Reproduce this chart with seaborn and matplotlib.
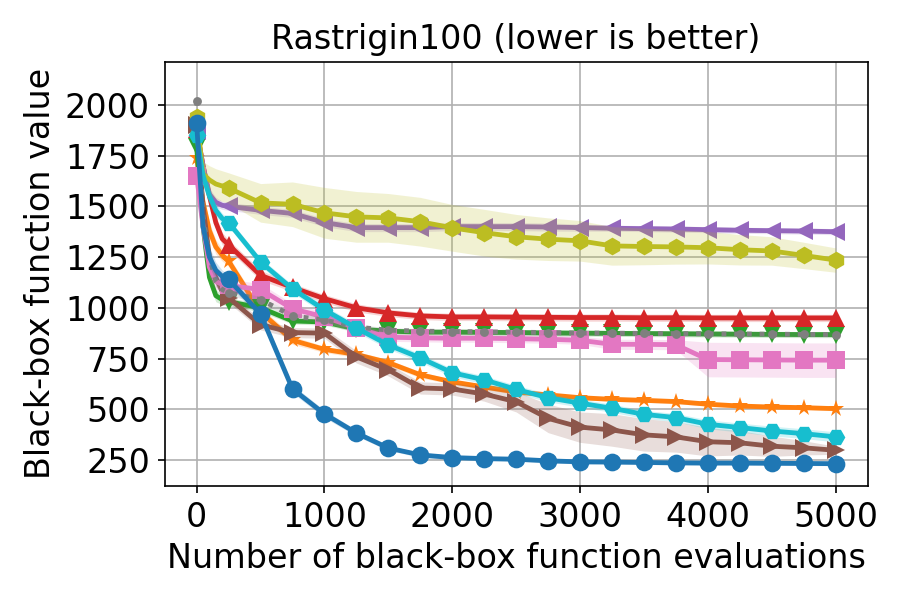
import matplotlib
matplotlib.use('Agg')
import matplotlib.pyplot as plt
import seaborn as sns
import numpy as np

plt.rcParams['font.family'] = ['DejaVu Sans']
plt.rcParams['font.size'] = 16

# evaluaciones (x) y valores
evals = [0, 50, 100, 150, 200, 250, 500, 750, 1000, 1250, 1500, 1750, 2000,
         2250, 2500, 2750, 3000, 3250, 3500, 3750, 4000, 4250, 4500, 4750, 5000]

blue = [1910, 1400, 1250, 1185, 1155, 1140, 970, 600, 477, 383, 309, 275, 262,
        257, 254, 246, 241, 240, 238, 236, 235, 235, 234, 233, 232]
orange = [1740, 1520, 1380, 1300, 1260, 1230, 980, 840, 795, 770, 730, 670, 635,
          610, 585, 571, 557, 549, 544, 538, 525, 516, 511, 508, 503]
green = [1790, 1400, 1150, 1060, 1040, 1030, 1000, 935, 930, 895, 885, 880, 880,
         879, 878, 876, 875, 874, 873, 872, 871, 870, 869, 868, 868]
red = [1880, 1700, 1550, 1420, 1340, 1310, 1160, 1100, 1045, 1000, 975, 960, 955,
       955, 954, 953, 952, 952, 951, 951, 950, 950, 950, 950, 950]
purple = [1870, 1700, 1560, 1520, 1505, 1500, 1480, 1465, 1420, 1395, 1395, 1395, 1400,
          1400, 1400, 1398, 1395, 1392, 1390, 1388, 1385, 1382, 1380, 1378, 1375]
brown = [1900, 1500, 1250, 1150, 1080, 1050, 916, 878, 875, 758, 694, 605, 600,
         575, 537, 455, 412, 398, 374, 364, 340, 335, 318, 310, 298]
pink = [1650, 1400, 1200, 1130, 1115, 1110, 1090, 995, 955, 900, 855, 852, 850,
        850, 848, 845, 840, 820, 820, 818, 745, 744, 743, 742, 742]
gray = [2020, 1450, 1250, 1130, 1090, 1075, 1040, 960, 940, 905, 890, 885, 883,
        882, 880, 878, 876, 875, 874, 873, 872, 871, 870, 869, 868]
olive = [1940, 1660, 1630, 1610, 1600, 1590, 1517, 1510, 1468, 1448, 1443, 1424, 1394,
         1370, 1350, 1338, 1330, 1305, 1302, 1300, 1296, 1286, 1280, 1258, 1235]
cyan = [1850, 1650, 1550, 1480, 1440, 1420, 1226, 1093, 990, 900, 817, 753, 680,
        645, 598, 557, 530, 505, 475, 459, 426, 410, 393, 380, 364]

# semi-ancho de la banda sombreada
blue_sd = [40, 60, 50, 40, 30, 25, 25, 20, 18, 15, 12, 12, 12,
           10, 10, 10, 10, 10, 10, 10, 10, 10, 10, 10, 10]
orange_sd = [40, 50, 40, 35, 30, 25, 25, 20, 15, 15, 15, 15, 12,
             12, 12, 10, 10, 10, 10, 10, 10, 10, 10, 10, 10]
green_sd = [30, 50, 40, 30, 25, 20, 20, 15, 15, 15, 15, 15, 15,
            15, 15, 15, 15, 15, 15, 15, 15, 15, 15, 15, 15]
red_sd = [30, 50, 40, 35, 30, 25, 25, 20, 20, 20, 18, 18, 18,
          18, 18, 18, 18, 18, 18, 18, 18, 18, 18, 18, 18]
purple_sd = [30, 40, 30, 25, 20, 20, 20, 20, 20, 20, 20, 20, 20,
             20, 20, 20, 18, 15, 15, 15, 15, 15, 15, 15, 15]
brown_sd = [40, 60, 50, 40, 30, 25, 25, 25, 25, 30, 30, 30, 30,
            35, 50, 70, 75, 80, 80, 75, 70, 60, 50, 35, 20]
pink_sd = [40, 60, 50, 40, 30, 30, 30, 25, 25, 25, 20, 20, 20,
           20, 20, 20, 20, 25, 25, 25, 85, 85, 85, 85, 85]
gray_sd = [20, 40, 30, 25, 20, 15, 15, 15, 15, 12, 12, 12, 12,
           12, 12, 12, 12, 12, 12, 12, 12, 12, 12, 12, 12]
olive_sd = [30, 60, 70, 75, 75, 75, 95, 110, 125, 125, 120, 120, 115,
            115, 110, 105, 100, 95, 90, 85, 80, 75, 70, 65, 60]
cyan_sd = [30, 50, 40, 30, 25, 20, 20, 20, 20, 20, 20, 20, 20,
           20, 20, 20, 20, 20, 20, 20, 22, 22, 24, 24, 25]

series = [
    (blue, blue_sd, 'tab:blue', 'o', '-'),
    (orange, orange_sd, 'tab:orange', '*', '-'),
    (green, green_sd, 'tab:green', 'v', '-'),
    (red, red_sd, 'tab:red', '^', '-'),
    (purple, purple_sd, 'tab:purple', '<', '-'),
    (brown, brown_sd, 'tab:brown', '>', '-'),
    (pink, pink_sd, 'tab:pink', 's', '-'),
    (gray, gray_sd, 'tab:gray', '.', ':'),
    (olive, olive_sd, 'tab:olive', 'h', '-'),
    (cyan, cyan_sd, 'tab:cyan', 'H', '-'),
]

# marcadores cada 250 evaluaciones
marcas = [0] + list(range(5, len(evals)))

fig, ax = plt.subplots(figsize=(6, 4), dpi=150)
fig.subplots_adjust(left=0.183, right=0.964, top=0.897, bottom=0.19)

x = np.array(evals)
for i, (vals, sd, col, mk, ls) in enumerate(series):
    vals = np.array(vals, dtype=float)
    sd = np.array(sd, dtype=float)
    z = 10 if i == 0 else 2 + i * 0.1
    ax.fill_between(x, vals - sd, vals + sd, color=col, alpha=0.2,
                    linewidth=0, zorder=z - 0.05)
    sns.lineplot(x=x, y=vals, ax=ax, color=col, marker=mk, linestyle=ls,
                 linewidth=2.3, markersize=8.5, markevery=marcas,
                 markeredgecolor=col, markeredgewidth=0, zorder=z)

ax.set_xlim(-250, 5250)
ax.set_ylim(122, 2212)
ax.set_xticks([0, 1000, 2000, 3000, 4000, 5000])
ax.set_yticks([250, 500, 750, 1000, 1250, 1500, 1750, 2000])
ax.grid(True, color='#b0b0b0', linewidth=0.8)
ax.set_axisbelow(True)
for s in ax.spines.values():
    s.set_color('black')
    s.set_linewidth(0.8)
ax.tick_params(axis='both', which='both', direction='out', length=3.5,
               width=0.8, labelsize=16, colors='black')

ax.set_title('Rastrigin100 (lower is better)', fontsize=16)
ax.set_xlabel('Number of black-box function evaluations', fontsize=16)
ax.set_ylabel('Black-box function value', fontsize=16)

fig.savefig('out.png', dpi=150)
